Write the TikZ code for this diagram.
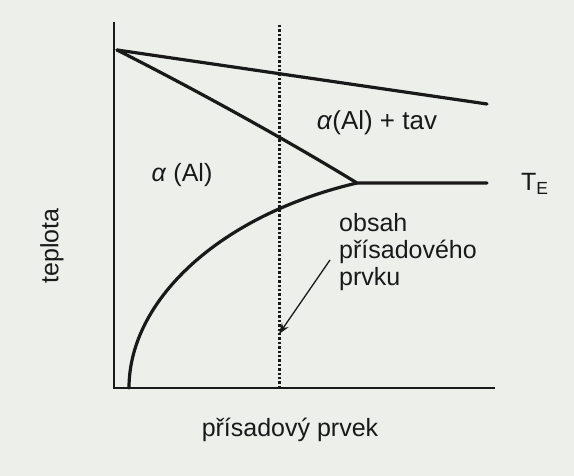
\documentclass[tikz,border=0pt]{standalone}
\usepackage{fontspec}
\setmainfont{Liberation Sans}
\usetikzlibrary{arrows.meta}
\definecolor{paper}{RGB}{236,239,234}
\definecolor{ink}{RGB}{25,25,25}
\tikzset{
  axisline/.style={ink, line width=2pt},
  curveline/.style={ink, line width=3.2pt, line cap=round, line join=round},
  dotline/.style={ink, line width=3pt, dash pattern=on 2.4pt off 2pt},
  lbl/.style={ink, font=\fontsize{25}{30}\selectfont, inner sep=0pt},
  pointer/.style={ink, line width=1.3pt, -{Stealth[length=11pt,width=8pt]}}
}
\begin{document}
\begin{tikzpicture}[x=1pt,y=-1pt]
\fill[paper] (0,0) rectangle (574,476);
\useasboundingbox (0,0) rectangle (574,476);
% axes
\coordinate (ytop) at (114,22);
\coordinate (orig) at (114,388);
\coordinate (xend) at (495,388);
\draw[axisline] (ytop) -- (orig) -- (xend);
% dotted composition line
\coordinate (dtop) at (279,25);
\coordinate (dbot) at (279,388);
\draw[dotline] (dtop) -- (dbot);
% phase lines
\coordinate (melt) at (117,50);
\coordinate (liq) at (487,104);
\coordinate (eut) at (357,183);
\coordinate (teend) at (487,183);
\coordinate (solbot) at (129,388);
\draw[curveline] (melt) -- (liq);
\draw[curveline] (melt) .. controls (200,92) and (290,142) .. (eut) -- (teend);
\draw[curveline] (solbot) .. controls (129,300) and (220,215) .. (eut);
% labels
\node[lbl, font=\fontsize{26}{30}\selectfont] (l1) at (377,123) {\textit{α}(Al) + tav};
\node[lbl] (l2) at (182,175) {\textit{α} (Al)};
\node[lbl, anchor=west] (te) at (521,184) {T\textsubscript{E}};
\node[lbl, anchor=west, align=left, font=\fontsize{25}{27}\selectfont] (obs) at (339,252) {obsah\\přísadového\\prvku};
\node[lbl, rotate=90] (yl) at (52,246) {teplota};
\node[lbl] (xl) at (290,430) {přísadový prvek};
\coordinate (arrs) at (330,260);
\coordinate (arre) at (279,334);
\draw[pointer] (arrs) -- (arre);
\end{tikzpicture}
\end{document}
